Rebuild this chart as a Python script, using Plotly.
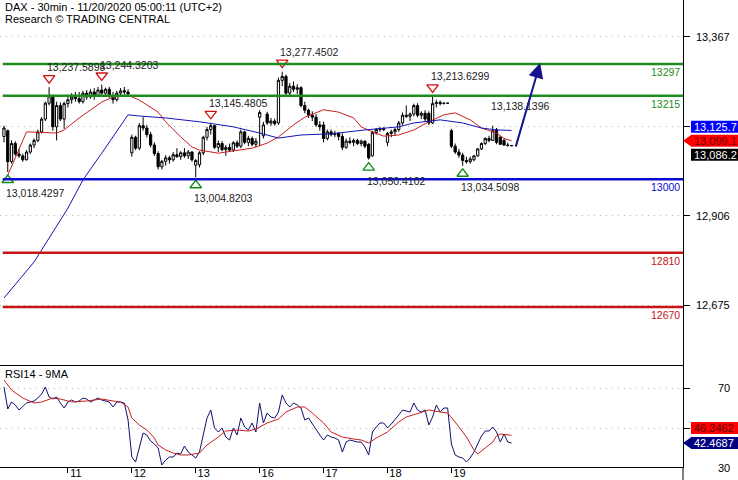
import plotly.graph_objects as go

# ---------------- data ----------------
day_ticks = [17, 34, 51, 68, 85, 102, 119]
day_labels = ["11", "12", "13", "16", "17", "18", "19"]

ohlc = [
    (13110, 13138, 13095, 13132), (13125, 13128, 13018.43, 13045), (13045, 13100, 13040, 13092),
    (13092, 13098, 13060, 13065), (13065, 13078, 13055, 13060), (13060, 13066, 13045, 13050),
    (13050, 13075, 13048, 13070), (13070, 13092, 13065, 13088), (13088, 13105, 13080, 13100),
    (13100, 13128, 13095, 13122), (13122, 13160, 13118, 13155), (13155, 13200, 13150, 13196),
    (13196, 13237.59, 13190, 13215), (13215, 13218, 13125, 13135), (13135, 13200, 13100, 13190),
    (13190, 13198, 13150, 13155), (13155, 13200, 13130, 13195),
    # day 11
    (13195, 13215, 13185, 13205), (13205, 13222, 13195, 13212), (13212, 13225, 13200, 13208),
    (13208, 13225, 13195, 13200), (13200, 13228, 13195, 13222), (13222, 13230, 13205, 13212),
    (13212, 13232, 13208, 13225), (13225, 13235, 13205, 13215), (13215, 13238, 13212, 13230),
    (13230, 13244.32, 13218, 13222), (13222, 13236, 13215, 13232), (13232, 13238, 13210, 13215),
    (13215, 13225, 13195, 13205), (13205, 13228, 13200, 13222), (13222, 13235, 13215, 13228),
    (13228, 13238, 13218, 13225), (13225, 13232, 13215, 13220),
    # day 12
    (13068, 13115, 13058, 13108), (13108, 13112, 13075, 13080), (13080, 13145, 13075, 13138),
    (13138, 13160, 13125, 13132), (13132, 13140, 13108, 13115), (13115, 13122, 13082, 13088),
    (13088, 13095, 13060, 13066), (13066, 13072, 13025, 13032), (13032, 13050, 13025, 13046),
    (13046, 13062, 13035, 13055), (13055, 13060, 13040, 13050), (13050, 13070, 13045, 13063),
    (13063, 13080, 13055, 13058), (13058, 13072, 13050, 13068), (13068, 13080, 13055, 13060),
    (13060, 13075, 13052, 13070), (13070, 13072, 13045, 13050),
    # day 13
    (13036, 13052, 13004.82, 13048), (13037, 13072, 13030, 13068), (13068, 13112, 13062, 13108),
    (13108, 13135, 13100, 13128), (13128, 13145.48, 13115, 13138), (13138, 13140, 13078, 13082),
    (13082, 13100, 13070, 13092), (13092, 13098, 13072, 13076), (13076, 13088, 13060, 13082),
    (13082, 13092, 13070, 13075), (13075, 13098, 13070, 13094), (13094, 13100, 13080, 13085),
    (13085, 13128, 13080, 13122), (13122, 13125, 13090, 13095), (13095, 13112, 13085, 13105),
    (13105, 13110, 13085, 13090), (13090, 13106, 13082, 13098),
    # day 16
    (13160, 13178, 13085, 13172), (13112, 13148, 13105, 13140), (13168, 13174, 13140, 13145),
    (13145, 13158, 13138, 13150), (13150, 13156, 13138, 13143), (13145, 13262, 13140, 13255),
    (13255, 13277.45, 13240, 13265), (13265, 13270, 13215, 13222), (13222, 13248, 13215, 13240),
    (13240, 13252, 13225, 13232), (13232, 13245, 13220, 13236), (13236, 13240, 13185, 13190),
    (13190, 13200, 13170, 13178), (13178, 13182, 13158, 13165), (13165, 13175, 13150, 13160),
    (13160, 13168, 13135, 13140), (13140, 13150, 13125, 13135),
    # day 17
    (13140, 13148, 13095, 13105), (13105, 13128, 13100, 13122), (13122, 13128, 13110, 13115),
    (13115, 13125, 13108, 13118), (13118, 13122, 13100, 13110), (13110, 13118, 13075, 13082),
    (13082, 13105, 13078, 13098), (13098, 13108, 13090, 13095), (13095, 13105, 13085, 13100),
    (13100, 13104, 13088, 13092), (13092, 13102, 13085, 13098), (13098, 13100, 13080, 13085),
    (13090, 13093, 13050.41, 13055), (13060, 13125, 13058, 13120), (13120, 13132, 13115, 13128),
    (13128, 13135, 13122, 13130), (13130, 13134, 13124, 13128),
    # day 18
    (13095, 13122, 13085, 13118), (13118, 13128, 13108, 13122), (13122, 13132, 13112, 13128),
    (13128, 13150, 13122, 13145), (13145, 13172, 13140, 13165), (13165, 13190, 13158, 13162),
    (13162, 13172, 13150, 13168), (13168, 13195, 13162, 13190), (13190, 13196, 13160, 13165),
    (13165, 13175, 13155, 13170), (13170, 13178, 13148, 13155), (13170, 13175, 13140, 13145),
    (13145, 13213.63, 13142, 13195), (13195, 13205, 13185, 13198), (13198, 13203, 13190, 13195),
    (13195, 13198, 13193, 13196), (13196, 13197, 13195, 13196),
    # day 19
    (13125, 13130, 13080, 13085), (13085, 13092, 13065, 13070), (13070, 13078, 13055, 13062),
    (13062, 13068, 13034.51, 13048), (13048, 13058, 13040, 13045), (13045, 13058, 13040, 13052),
    (13050, 13062, 13046, 13060), (13060, 13080, 13058, 13078), (13078, 13095, 13075, 13092),
    (13092, 13108, 13088, 13105), (13105, 13112, 13095, 13100), (13100, 13138.14, 13098, 13125),
    (13128, 13132, 13090, 13095), (13108, 13112, 13088, 13090), (13100, 13104, 13086, 13088),
    (13088, 13094, 13084, 13087), (13087, 13088, 13086, 13086.2),
]
bar_open = [b[0] for b in ohlc]
bar_high = [b[1] for b in ohlc]
bar_low = [b[2] for b in ohlc]
bar_close = [b[3] for b in ohlc]
bar_idx = list(range(len(ohlc)))

ma_red_idx = [1, 6, 14, 16, 20, 26, 29, 33, 36, 41, 43, 47, 50, 52, 57, 61, 66, 70, 73, 77, 80, 85,
              89, 93, 95, 98, 101, 105, 109, 113, 117, 120, 124, 127, 131, 133, 135]
ma_red_val = [13010, 13122, 13119, 13127, 13158, 13199, 13212, 13217, 13204, 13173, 13148, 13109, 13083,
              13075, 13067, 13073, 13080, 13093, 13109, 13140, 13160, 13179, 13173, 13158, 13135, 13122,
              13111, 13114, 13127, 13148, 13166, 13171, 13153, 13132, 13119, 13105, 13099.1]

ma_blue_idx = [0, 8, 17, 21, 26, 30, 33, 36, 43, 52, 61, 68, 73, 79, 87, 96, 105, 109, 116, 122, 127, 131, 135]
ma_blue_val = [12693, 12786, 12925, 12998, 13067, 13122, 13166, 13163, 13158, 13148, 13135, 13119, 13106,
               13114, 13117, 13127, 13135, 13145, 13153, 13145, 13132, 13127, 13125.7]

rsi_val = [70.5, 59.5, 63, 61.5, 59, 61, 62.5, 63, 63.5, 65, 67, 70.5, 65.5, 64.5, 65.5, 62.5, 60,
           63, 64, 63, 63.5, 65, 64.5, 63, 64, 65, 64, 63.5, 63, 60.5, 63, 63, 62.5,
           54, 35.5, 33, 40.5, 47.5, 46.5, 43.5, 42, 40, 31.5, 34, 35.5, 35.5, 37.5, 37, 41, 38, 36.5,
           35, 38, 47, 55, 59, 50, 48, 50, 45.5, 44, 50, 46.5, 55, 50.5, 49, 52.5, 48,
           62.5, 52.5, 57.5, 55.5, 55, 58, 66.5, 62.5, 60.5, 62.5, 61.5, 60, 54, 55, 52, 49, 46.5,
           44, 46.5, 45.5, 45, 44, 38, 43, 44, 43.5, 43, 43, 40.5, 36.5, 48, 50.5, 52.5, 52.5,
           50, 52, 54, 56.5, 59, 58.5, 58, 62.5, 59, 58, 59, 51.5, 55.5, 61.5, 58, 60, 60,
           42, 36.5, 35.5, 35, 33, 35, 38, 42, 46, 48.5, 48.5, 50.5, 48, 43, 47, 43, 42.4687]

rsi_ma_idx = [0, 2, 5, 8, 10, 13, 15, 18, 22, 26, 29, 31, 33, 34, 36, 38, 40, 41, 43, 45, 47, 49, 52,
              54, 57, 59, 62, 65, 67, 70, 73, 75, 78, 80, 82, 85, 87, 90, 93, 95, 97, 99, 102, 105,
              107, 111, 113, 116, 118, 120, 123, 125, 126, 128, 130, 131, 132, 135]
rsi_ma_val = [74, 69, 65, 62.5, 63, 65, 64.5, 63, 63.5, 64.5, 63.5, 63, 60.5, 55, 51.5, 49, 45, 41.5,
              39, 37.5, 36.5, 36.5, 37.5, 41.5, 45.5, 48.5, 49, 48.5, 49.5, 52.5, 54.5, 58, 60.5, 60.5,
              57.5, 52.5, 48, 45.5, 44.5, 44, 42.5, 45, 48, 53, 55.5, 58, 59, 58, 57.5, 53, 45.5, 39,
              37, 40, 43, 46, 47, 46.3462]

levels_green = [13297, 13215]
level_blue = [13000]
levels_red = [12810, 12670]

highs_marked = [(12, "13,237.5898"), (26, "13,244.3203"), (55, "13,145.4805"), (74, "13,277.4502"), (114, "13,213.6299")]
lows_marked = [(1, "13,018.4297"), (51, "13,004.8203"), (97, "13,050.4102"), (122, "13,034.5098")]
pending_high = (130, "13,138.1396")

arrow_from = (136, 13080)
arrow_to = (142.6, 13300)

price_ticks = [12675, 12906, 13136, 13367]
price_tick_text = ["12,675", "12,906", "", "13,367"]
rsi_ticks = [30, 50, 70]
rsi_tick_text = ["30", "", "70"]

last_blue_ma = 13125.7
last_red_ma = 13099.1
last_close = 13086.2
last_rsi_ma = 46.3462
last_rsi = 42.4687

# ---------------- geometry ----------------
W, H = 738, 480
ML, MR, MT, MB = 0, 55, 0, 13
PW, PH = W - ML - MR, H - MT - MB          # 683 x 467
MAIN_H = 365
RSI_TOP = 366
Y0, Y1 = 12520.1, 13462.5
R0, R1 = 30.5, 81
X0, X1 = -1.06, 180.6
FONT = "Liberation Sans, Arial, sans-serif"


def py_main(v):
    return (Y1 - v) / (Y1 - Y0) * MAIN_H


def py_rsi(v):
    return RSI_TOP + (R1 - v) / (R1 - R0) * (PH - RSI_TOP)


def ppy(p):
    return 1 - p / PH


def ppx(p):
    return p / PW


pts_per_px = (Y1 - Y0) / MAIN_H

fig = go.Figure()
fig.add_trace(go.Candlestick(
    x=bar_idx, open=bar_open, high=bar_high, low=bar_low, close=bar_close,
    increasing=dict(line=dict(color="black", width=1), fillcolor="white"),
    decreasing=dict(line=dict(color="black", width=1), fillcolor="black"),
    whiskerwidth=0, xaxis="x", yaxis="y", showlegend=False, hoverinfo="skip"))
fig.add_trace(go.Scatter(x=ma_red_idx, y=ma_red_val, mode="lines",
                         line=dict(color="#c81e1e", width=1), xaxis="x", yaxis="y", showlegend=False))
fig.add_trace(go.Scatter(x=ma_blue_idx, y=ma_blue_val, mode="lines",
                         line=dict(color="#1414b4", width=1), xaxis="x", yaxis="y", showlegend=False))

# triangles
fig.add_trace(go.Scatter(
    x=[i for i, _ in highs_marked], y=[bar_high[i] + 9 * pts_per_px for i, _ in highs_marked],
    mode="markers", marker=dict(symbol="triangle-down-open", size=10, color="#d01010", line=dict(width=1.3)),
    xaxis="x", yaxis="y", showlegend=False))
fig.add_trace(go.Scatter(
    x=[i for i, _ in lows_marked], y=[bar_low[i] - 8 * pts_per_px for i, _ in lows_marked],
    mode="markers", marker=dict(symbol="triangle-up-open", size=10, color="#108a10", line=dict(width=1.3)),
    xaxis="x", yaxis="y", showlegend=False))

# RSI
fig.add_trace(go.Scatter(x=bar_idx, y=rsi_val, mode="lines", line=dict(color="#10106e", width=1),
                         xaxis="x2", yaxis="y2", showlegend=False))
fig.add_trace(go.Scatter(x=rsi_ma_idx, y=rsi_ma_val, mode="lines", line=dict(color="#c81e1e", width=1),
                         xaxis="x2", yaxis="y2", showlegend=False))

shapes = []
annotations = []


def hline(v, color, label):
    shapes.append(dict(type="line", xref="paper", yref="y", x0=0.004, x1=1, y0=v, y1=v,
                       line=dict(color=color, width=2.5)))
    annotations.append(dict(xref="paper", yref="y", x=ppx(682), y=v, yshift=-8, text=label,
                            showarrow=False, xanchor="right", yanchor="middle",
                            font=dict(family=FONT, size=10.5, color=color)))


for v in levels_green:
    hline(v, "#1e8c1e", str(v))
for v in level_blue:
    hline(v, "#0a0ad2", str(v))
for v in levels_red:
    hline(v, "#c81414", str(v))

for i, t in highs_marked + [pending_high]:
    annotations.append(dict(xref="x", yref="y", x=i, y=bar_high[i], yshift=20, xshift=-4, text=t,
                            showarrow=False, xanchor="left", yanchor="middle",
                            font=dict(family=FONT, size=10.5, color="#222222")))
for i, t in lows_marked:
    annotations.append(dict(xref="x", yref="y", x=i, y=bar_low[i], yshift=-21, xshift=-4, text=t,
                            showarrow=False, xanchor="left", yanchor="middle",
                            font=dict(family=FONT, size=10.5, color="#222222")))

# forecast arrow
annotations.append(dict(xref="x", yref="y", axref="x", ayref="y", x=arrow_to[0], y=arrow_to[1],
                        ax=arrow_from[0], ay=arrow_from[1], text="", showarrow=True, arrowhead=2,
                        arrowsize=1.5, arrowwidth=2, arrowcolor="#14148c"))

# header texts
annotations.append(dict(xref="paper", yref="paper", x=ppx(3), y=ppy(7), text="DAX - 30min - 11/20/2020 05:00:11 (UTC+2)",
                        showarrow=False, xanchor="left", yanchor="middle", font=dict(family=FONT, size=11, color="black")))
annotations.append(dict(xref="paper", yref="paper", x=ppx(3), y=ppy(19.5), text="Research © TRADING CENTRAL",
                        showarrow=False, xanchor="left", yanchor="middle", font=dict(family=FONT, size=11, color="black")))
annotations.append(dict(xref="paper", yref="paper", x=ppx(3), y=ppy(374), text="RSI14 - 9MA",
                        showarrow=False, xanchor="left", yanchor="middle", font=dict(family=FONT, size=11, color="black")))

# right tick labels
for v, t in zip(price_ticks, price_tick_text):
    if t:
        annotations.append(dict(xref="paper", yref="paper", x=ppx(732), y=ppy(py_main(v)), text=t, showarrow=False,
                                xanchor="right", yanchor="middle", font=dict(family=FONT, size=11, color="black")))
for v, t in zip(rsi_ticks, rsi_tick_text):
    if t:
        annotations.append(dict(xref="paper", yref="paper", x=ppx(732), y=ppy(py_rsi(v)), text=t, showarrow=False,
                                xanchor="right", yanchor="middle", font=dict(family=FONT, size=11, color="black")))


def badge(center_px, label, bg, fg, arrow=False):
    shapes.append(dict(type="rect", xref="paper", yref="paper", x0=ppx(691), x1=ppx(760),
                       y0=ppy(center_px + 6), y1=ppy(center_px - 6), fillcolor=bg, line=dict(width=0), layer="above"))
    if arrow:
        path = "M {} {} L {} {} L {} {} Z".format(ppx(683), ppy(center_px), ppx(691.5), ppy(center_px - 6),
                                                   ppx(691.5), ppy(center_px + 6))
        shapes.append(dict(type="path", xref="paper", yref="paper", path=path, fillcolor=bg,
                           line=dict(width=0), layer="above"))
    annotations.append(dict(xref="paper", yref="paper", x=ppx(692), y=ppy(center_px), text=label, showarrow=False,
                            xanchor="left", yanchor="middle", font=dict(family=FONT, size=11, color=fg)))


c_red = py_main(last_red_ma)
badge(c_red - 14, f"{last_blue_ma:,.1f}", "#0000ff", "white")
badge(c_red, f"{last_red_ma:,.1f}", "#ff0000", "#700000", arrow=True)
badge(c_red + 14, f"{last_close:,.1f}", "#000000", "white")

c_rsi = py_rsi(last_rsi)
badge(c_rsi - 15, f"{last_rsi_ma:.4f}", "#ff0000", "#600000")
badge(c_rsi, f"{last_rsi:.4f}", "#000080", "white", arrow=True)

# axis line extension below plot
shapes.append(dict(type="line", xref="paper", yref="paper", x0=1, x1=1, y0=0, y1=-MB / PH,
                   line=dict(color="black", width=1)))

fig.update_layout(
    width=W, height=H, margin=dict(l=ML, r=MR, t=MT, b=MB, autoexpand=False),
    paper_bgcolor="white", plot_bgcolor="white", showlegend=False, boxgap=0.15,
    font=dict(family=FONT, size=11, color="black"),
    shapes=shapes, annotations=annotations,
    xaxis=dict(domain=[0, 1], range=[X0, X1], anchor="y", showticklabels=False, showgrid=False, automargin=False,
               zeroline=False, showline=False, ticks="", rangeslider=dict(visible=False)),
    yaxis=dict(domain=[1 - MAIN_H / PH, 1], range=[Y0, Y1], side="right", anchor="x", automargin=False,
               tickvals=price_ticks, showticklabels=False, ticks="outside", ticklen=6, tickcolor="black",
               showgrid=True, gridcolor="#b4b4b4", griddash="1px,5px", gridwidth=1,
               showline=True, linecolor="black", linewidth=1, zeroline=False),
    xaxis2=dict(domain=[0, 1], range=[X0, X1], anchor="y2", tickvals=day_ticks, ticktext=day_labels,
                automargin=False,
                ticks="outside", ticklen=5, tickcolor="black", ticklabelshift=8, ticklabelstandoff=-9,
                tickfont=dict(family=FONT, size=11, color="black"),
                showgrid=False, zeroline=False, showline=True, mirror=True, linecolor="black", linewidth=1),
    yaxis2=dict(domain=[0, 1 - RSI_TOP / PH], range=[R0, R1], side="right", anchor="x2", automargin=False,
                tickvals=rsi_ticks, showticklabels=False, ticks="outside", ticklen=6, tickcolor="black",
                showgrid=True, gridcolor="#b4b4b4", griddash="1px,5px", gridwidth=1,
                showline=True, linecolor="black", linewidth=1, zeroline=False),
)

fig.write_html("out.html", config={"displayModeBar": False},
               post_script="document.body.style.margin='0px';document.body.style.padding='0px';")
